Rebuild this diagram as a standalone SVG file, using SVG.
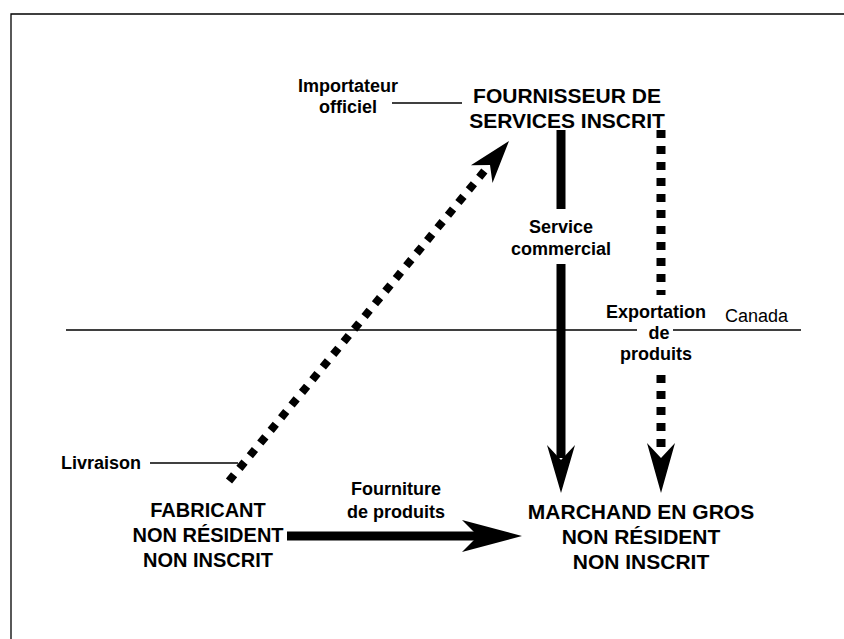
<svg xmlns="http://www.w3.org/2000/svg" width="844" height="639" viewBox="0 0 844 639">
<style>
.t{font-family:"Liberation Sans",Arial,sans-serif;font-weight:bold;font-size:21px;text-anchor:middle;fill:#000}
.s{font-size:20px}
.l{font-family:"Liberation Sans",Arial,sans-serif;font-weight:bold;font-size:18px;text-anchor:middle;fill:#000}
.c{font-family:"Liberation Sans",Arial,sans-serif;font-size:18px;fill:#000}
.thin{stroke:#000;stroke-width:1.3;fill:none}
.solid{stroke:#000;stroke-width:9;fill:none}
.dot{stroke:#000;stroke-width:9;stroke-dasharray:8 8;fill:none}
.ddot{stroke:#000;stroke-width:8;stroke-dasharray:8 8.4;fill:none}
.head{fill:#000;stroke:none}
</style>
<rect width="844" height="639" fill="#fff"/>
<path class="thin" d="M11,639 V14 H844" stroke-width="2"/>
<g id="connectors">
<path class="thin" d="M66,330 H637 M673,330 H801"/>
<path class="thin" d="M392,103 H462"/>
<path class="thin" d="M150,463 H238"/>
<path class="solid" d="M561,130 V209 M561,264 V458"/>
<polygon class="head" points="561,493 575,445 561,460 547,445"/>
<path class="dot" d="M661,130 V295 M661,375 V450"/>
<polygon class="head" points="661,493 675,443 661,458 647,443"/>
<path class="solid" d="M287,536 H480"/>
<polygon class="head" points="522,536 462,520 478,536 462,552"/>
<path class="ddot" d="M229,481 L486,169"/>
<polygon class="head" points="509,141 492.5,183 490,165 470.9,165.3"/>
</g>
<g id="fournisseur">
<text class="t" x="567" y="103">FOURNISSEUR DE</text>
<text class="t" x="567" y="128">SERVICES INSCRIT</text>
</g>
<g id="fabricant">
<text class="t s" x="208" y="517">FABRICANT</text>
<text class="t s" x="208" y="542">NON RÉSIDENT</text>
<text class="t s" x="208" y="567">NON INSCRIT</text>
</g>
<g id="marchand">
<text class="t" x="641" y="519">MARCHAND EN GROS</text>
<text class="t" x="641" y="544">NON RÉSIDENT</text>
<text class="t" x="641" y="569">NON INSCRIT</text>
</g>
<g id="labels">
<text class="l" x="348" y="92">Importateur</text>
<text class="l" x="348" y="113">officiel</text>
<text class="l" x="561" y="233">Service</text>
<text class="l" x="561" y="255">commercial</text>
<text class="l" x="656" y="318">Exportation</text>
<text class="l" x="659" y="339">de</text>
<text class="l" x="656" y="360">produits</text>
<text class="l" x="396" y="495">Fourniture</text>
<text class="l" x="396" y="518">de produits</text>
<text class="l" x="141" y="469" style="text-anchor:end">Livraison</text>
<text class="c" x="725" y="322">Canada</text>
</g>
</svg>
